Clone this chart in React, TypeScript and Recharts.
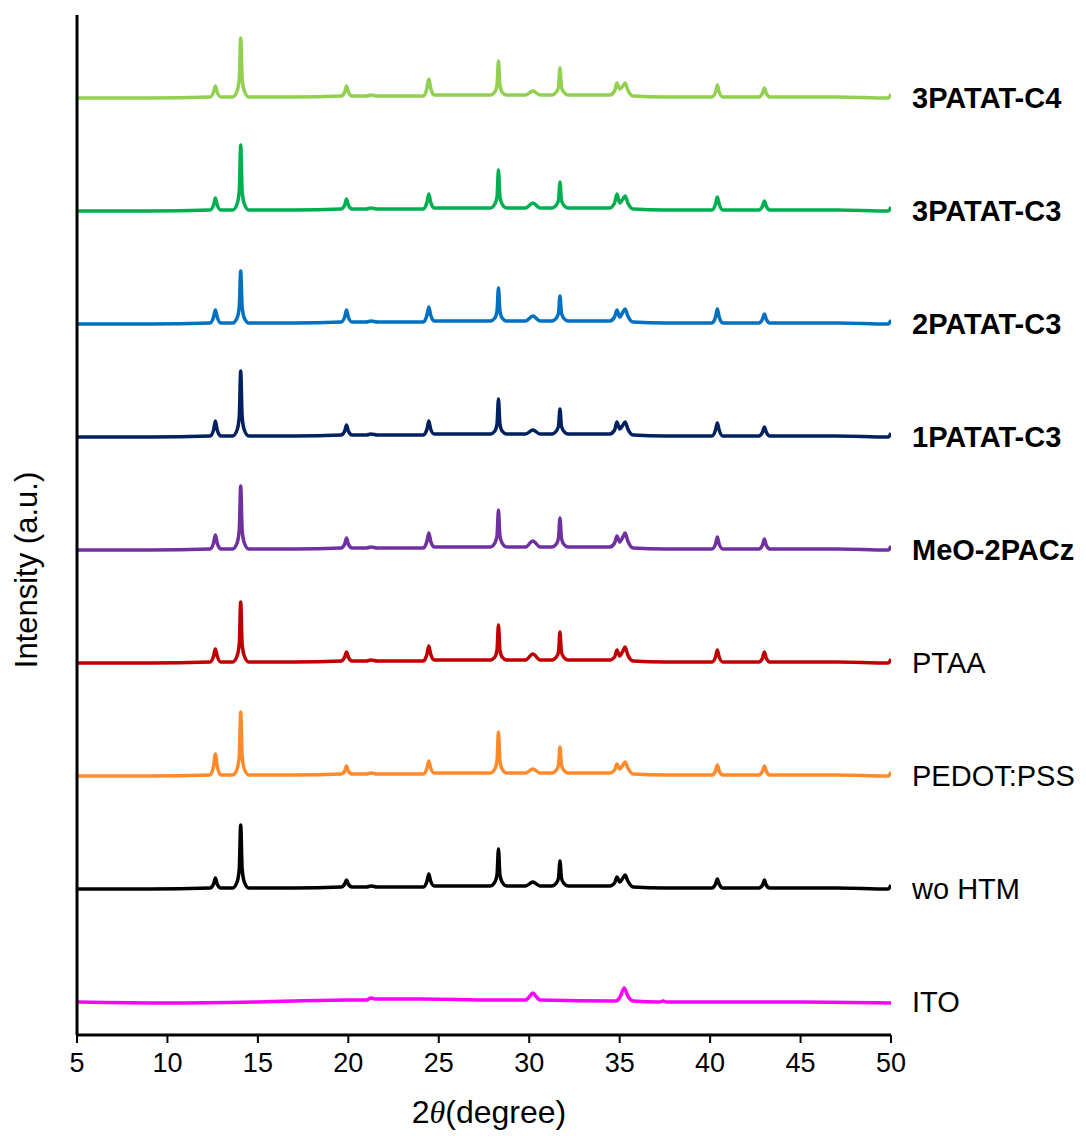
import { LineChart, Line, XAxis, YAxis, LabelList } from 'recharts';

// 2θ grid shared by the eight perovskite films
const twoTheta = [
  5, 9, 12.35, 12.55, 12.65, 12.75, 12.95, 13.6, 13.85, 13.97, 14.05, 14.13, 14.25, 14.5, 17,
  19.6, 19.8, 19.9, 20.0, 20.2, 21.0, 21.25, 21.6, 24.15, 24.35, 24.45, 24.55, 24.75,
  27.85, 28.1, 28.22, 28.3, 28.38, 28.5, 28.75, 29.8, 30.2, 30.6,
  31.25, 31.5, 31.62, 31.7, 31.78, 31.9, 32.15, 34.45, 34.72, 34.85, 35.0, 35.18, 35.3, 35.45, 35.75,
  37.5, 40.1, 40.3, 40.4, 40.5, 40.7, 42.7, 42.9, 43.0, 43.1, 43.3, 47, 49.85, 50,
];

// intensities (a.u.)
const woHTM = [0, 0, 1, 5, 11, 5, 1, 1, 7, 20, 64, 20, 7, 1, 1, 2, 5, 9, 5, 2, 2, 3, 2, 2, 8, 15, 8, 3, 3, 7, 14, 40, 14, 7, 3, 3, 7, 3, 3, 6, 11, 28, 11, 6, 3, 3, 6, 12, 7, 11, 14, 8, 2, 1, 1, 5, 10, 5, 1, 1, 4, 9, 4, 1, 1, 0, 4];
const pedot = [0, 0, 1, 10, 22, 10, 1, 1, 7, 20, 64, 20, 7, 1, 1, 2, 5, 10, 5, 2, 2, 3, 2, 2, 8, 15, 8, 3, 3, 7, 15, 44, 15, 7, 3, 3, 7, 3, 3, 6, 11, 29, 11, 6, 3, 3, 6, 12, 7, 11, 14, 8, 2, 1, 1, 5, 11, 5, 1, 1, 5, 10, 5, 1, 1, 0, 4];
const ptaa = [0, 0, 1, 7, 14, 7, 1, 1, 7, 19, 61, 19, 7, 1, 1, 2, 6, 11, 6, 2, 2, 3, 2, 2, 9, 17, 9, 3, 3, 6, 13, 38, 13, 6, 3, 3, 9, 3, 3, 6, 11, 31, 11, 6, 3, 3, 6, 13, 7, 12, 16, 8, 2, 1, 1, 6, 13, 6, 1, 1, 5, 11, 5, 1, 1, 0, 4];
const meo2pacz = [0, 0, 1, 7, 15, 7, 1, 1, 7, 20, 64, 20, 7, 1, 1, 2, 6, 12, 6, 2, 2, 3, 2, 2, 9, 17, 9, 3, 3, 7, 14, 40, 14, 7, 3, 3, 9, 3, 3, 6, 12, 32, 12, 6, 3, 3, 7, 14, 8, 13, 17, 9, 2, 1, 1, 6, 13, 6, 1, 1, 5, 11, 5, 1, 1, 0, 4];
const p1C3 = [0, 0, 1, 7, 16, 7, 1, 1, 7, 20, 66, 20, 7, 1, 1, 2, 6, 12, 6, 2, 2, 3, 2, 2, 8, 16, 8, 3, 3, 6, 13, 38, 13, 6, 3, 3, 7, 3, 3, 6, 11, 28, 11, 6, 3, 3, 7, 15, 8, 12, 15, 8, 2, 1, 1, 7, 14, 7, 1, 1, 5, 10, 5, 1, 1, 0, 4];
const p2C3 = [0, 0, 1, 7, 14, 7, 1, 1, 6, 17, 53, 17, 6, 1, 1, 2, 7, 14, 7, 2, 2, 3, 2, 2, 9, 17, 9, 3, 3, 6, 13, 36, 13, 6, 3, 3, 8, 3, 3, 6, 11, 28, 11, 6, 3, 3, 7, 14, 7, 12, 15, 8, 2, 1, 1, 7, 15, 7, 1, 1, 5, 10, 5, 1, 1, 0, 4];
const p3C3 = [0, 0, 1, 6, 13, 6, 1, 1, 7, 20, 66, 20, 7, 1, 1, 2, 6, 12, 6, 2, 2, 3, 2, 2, 9, 17, 9, 3, 3, 7, 14, 41, 14, 7, 3, 3, 8, 3, 3, 6, 11, 29, 11, 6, 3, 3, 8, 17, 8, 12, 15, 8, 2, 1, 1, 7, 14, 7, 1, 1, 5, 10, 5, 1, 1, 0, 4];
const p3C4 = [0, 0, 1, 6, 12, 6, 1, 1, 7, 19, 60, 19, 7, 1, 1, 2, 6, 12, 6, 2, 2, 3, 2, 2, 10, 19, 10, 3, 3, 6, 13, 37, 13, 6, 3, 3, 7, 3, 3, 6, 11, 30, 11, 6, 3, 3, 7, 15, 9, 12, 15, 8, 2, 1, 1, 6, 13, 6, 1, 1, 5, 10, 5, 1, 1, 0, 4];

// bare ITO substrate has its own grid
const itoTheta = [5, 10, 15, 20, 21.0, 21.25, 21.5, 24, 28, 29.8, 30.0, 30.2, 30.4, 30.6, 34.8, 35.05, 35.25, 35.45, 35.75, 37.2, 37.4, 37.6, 45, 50];
const ito = [0, -1, 0, 2, 2, 4, 3, 3, 2, 2, 5, 9, 5, 2, 1, 6, 14, 6, 1, 0, 1, 0, 0, -1];

const xTicks = [5, 10, 15, 20, 25, 30, 35, 40, 45, 50];

const names = ['ITO', 'wo HTM', 'PEDOT:PSS', 'PTAA', 'MeO-2PACz', '1PATAT-C3', '2PATAT-C3', '3PATAT-C3', '3PATAT-C4'];
const colors = ['#FF00FF', '#000000', '#FF8A2A', '#C00000', '#7030A0', '#002060', '#0070C0', '#00B050', '#92D050'];
const boldLabel = [false, false, false, false, true, true, true, true, true];

const traces = [ito, woHTM, pedot, ptaa, meo2pacz, p1C3, p2C3, p3C3, p3C4];

// vertical stacking (display only)
const BASE = 33;
const STEP = 113;

const series = traces.map((vals, k) => {
  const xs = k === 0 ? itoTheta : twoTheta;
  return xs.map((x, i) => ({
    x,
    y: vals[i] + BASE + STEP * k,
    name: i === xs.length - 2 ? names[k] : undefined,
  }));
});

const font = '"Liberation Sans", Arial, sans-serif';

export default function App() {
  return (
    <div style={{ position: 'absolute', left: 0, top: 0, width: 1086, height: 1140, background: '#fff', fontFamily: font }}>
      <LineChart width={1086} height={1140} margin={{ top: 15, right: 195, bottom: 0, left: 17 }}>
        <XAxis
          type="number"
          dataKey="x"
          domain={[5, 50]}
          ticks={xTicks}
          allowDataOverflow
          height={105}
          tick={{ fill: '#000', fontSize: 27, fontFamily: font }}
          tickSize={8}
          tickMargin={10}
          tickLine={{ stroke: '#000', strokeWidth: 2 }}
          axisLine={{ stroke: '#000', strokeWidth: 3 }}
        />
        <YAxis
          type="number"
          domain={[0, 1020]}
          allowDataOverflow
          width={60}
          tick={false}
          tickLine={false}
          axisLine={{ stroke: '#000', strokeWidth: 3 }}
        />
        {series.map((data, k) => (
          <Line
            key={names[k]}
            data={data}
            dataKey="y"
            type="monotone"
            stroke={colors[k]}
            strokeWidth={3.5}
            dot={false}
            isAnimationActive={false}
          >
            <LabelList
              dataKey="name"
              content={(p: any) =>
                p.value ? (
                  <text
                    x={912}
                    y={p.y}
                    dominantBaseline="central"
                    fontSize={29}
                    fontFamily={font}
                    fontWeight={boldLabel[k] ? 700 : 400}
                    fill="#000"
                  >
                    {p.value}
                  </text>
                ) : null
              }
            />
          </Line>
        ))}
      </LineChart>
      <div
        style={{
          position: 'absolute',
          left: 27,
          top: 570,
          transform: 'translate(-50%, -50%) rotate(-90deg)',
          whiteSpace: 'nowrap',
          fontSize: 31,
          color: '#000',
        }}
      >
        Intensity (a.u.)
      </div>
      <div
        style={{
          position: 'absolute',
          left: 489,
          top: 1112,
          transform: 'translate(-50%, -50%)',
          whiteSpace: 'nowrap',
          fontSize: 32,
          color: '#000',
        }}
      >
        2<span style={{ fontStyle: 'italic', fontFamily: '"Liberation Serif", serif' }}>θ</span>(degree)
      </div>
    </div>
  );
}
